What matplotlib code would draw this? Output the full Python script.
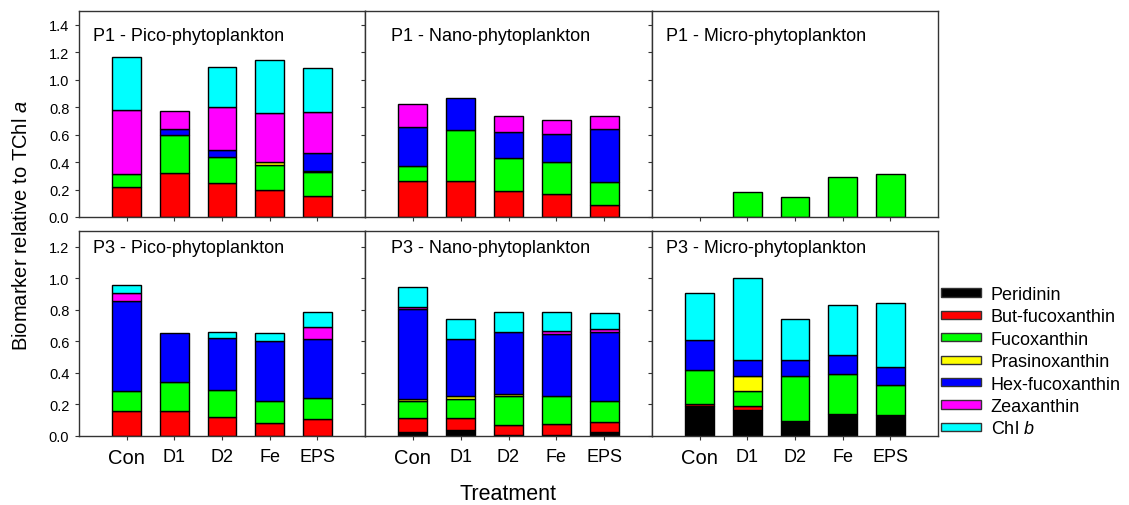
import numpy as np
import matplotlib
matplotlib.use("Agg")
import matplotlib.pyplot as plt
from matplotlib.patches import Patch

plt.rcParams['font.family'] = ['Liberation Sans', 'DejaVu Sans']
plt.rcParams['mathtext.fontset'] = 'custom'
plt.rcParams['mathtext.rm'] = 'Liberation Sans'
plt.rcParams['mathtext.it'] = 'Liberation Sans:italic'

# TREATMENTS AND PIGMENTS
tratamientos = ['Con', 'D1', 'D2', 'Fe', 'EPS']
pigmentos = ['Peridinin', 'But-fucoxanthin', 'Fucoxanthin', 'Prasinoxanthin',
             'Hex-fucoxanthin', 'Zeaxanthin', 'Chl $\\it{b}$']
colores = ['#000000', '#ff0000', '#00ff00', '#ffff00', '#0000ff', '#ff00ff', '#00ffff']

# Rows: pigments (same order as above), columns: treatments
p1_pico = np.array([
    [0.000, 0.000, 0.000, 0.000, 0.000],
    [0.215, 0.320, 0.250, 0.200, 0.150],
    [0.095, 0.280, 0.185, 0.180, 0.175],
    [0.000, 0.000, 0.000, 0.020, 0.012],
    [0.000, 0.040, 0.050, 0.000, 0.130],
    [0.470, 0.135, 0.315, 0.360, 0.295],
    [0.385, 0.000, 0.295, 0.380, 0.320],
])
p1_nano = np.array([
    [0.000, 0.000, 0.000, 0.000, 0.000],
    [0.260, 0.260, 0.187, 0.168, 0.088],
    [0.115, 0.370, 0.245, 0.235, 0.170],
    [0.000, 0.000, 0.000, 0.000, 0.000],
    [0.280, 0.235, 0.190, 0.200, 0.380],
    [0.170, 0.000, 0.110, 0.100, 0.100],
    [0.000, 0.000, 0.000, 0.000, 0.000],
])
p1_micro = np.array([
    [0.000, 0.000, 0.000, 0.000, 0.000],
    [0.000, 0.000, 0.000, 0.000, 0.000],
    [0.000, 0.180, 0.145, 0.290, 0.310],
    [0.000, 0.000, 0.000, 0.000, 0.000],
    [0.000, 0.000, 0.000, 0.000, 0.000],
    [0.000, 0.000, 0.000, 0.000, 0.000],
    [0.000, 0.000, 0.000, 0.000, 0.000],
])
p3_pico = np.array([
    [0.000, 0.000, 0.000, 0.000, 0.000],
    [0.157, 0.161, 0.120, 0.080, 0.106],
    [0.127, 0.180, 0.170, 0.144, 0.137],
    [0.000, 0.000, 0.000, 0.000, 0.000],
    [0.571, 0.313, 0.332, 0.377, 0.371],
    [0.051, 0.000, 0.000, 0.000, 0.076],
    [0.053, 0.000, 0.038, 0.053, 0.097],
])
p3_nano = np.array([
    [0.025, 0.038, 0.004, 0.004, 0.023],
    [0.087, 0.074, 0.064, 0.072, 0.064],
    [0.108, 0.121, 0.188, 0.180, 0.137],
    [0.012, 0.023, 0.013, 0.000, 0.000],
    [0.571, 0.356, 0.391, 0.394, 0.436],
    [0.013, 0.000, 0.000, 0.017, 0.017],
    [0.129, 0.131, 0.125, 0.118, 0.102],
])
p3_micro = np.array([
    [0.193, 0.167, 0.093, 0.140, 0.133],
    [0.013, 0.022, 0.000, 0.000, 0.000],
    [0.212, 0.095, 0.288, 0.252, 0.189],
    [0.000, 0.097, 0.000, 0.000, 0.000],
    [0.190, 0.104, 0.102, 0.120, 0.114],
    [0.000, 0.000, 0.000, 0.000, 0.000],
    [0.302, 0.520, 0.260, 0.320, 0.409],
])

paneles = [
    (p1_pico, 'P1 - Pico-phytoplankton'),
    (p1_nano, 'P1 - Nano-phytoplankton'),
    (p1_micro, 'P1 - Micro-phytoplankton'),
    (p3_pico, 'P3 - Pico-phytoplankton'),
    (p3_nano, 'P3 - Nano-phytoplankton'),
    (p3_micro, 'P3 - Micro-phytoplankton'),
]

# FIGURE
W, H = 1129, 506
fig = plt.figure(figsize=(W / 100, H / 100), dpi=100)

# panel boxes in pixels: left, top, right, bottom
columnas = [(79, 365), (365, 652), (652, 938)]
filas = [(12, 218), (232, 437)]

x = np.arange(1, 6)

for k, (datos, titulo) in enumerate(paneles):
    fila = k // 3
    col = k % 3
    x0, x1 = columnas[col]
    y0, y1 = filas[fila]
    ax = fig.add_axes([x0 / W, 1 - y1 / H, (x1 - x0) / W, (y1 - y0) / H])

    # stacked bars
    base = np.zeros(5)
    for i in range(len(pigmentos)):
        h = datos[i]
        if h.sum() > 0:
            ax.bar(x[h > 0], h[h > 0], bottom=base[h > 0], width=0.6,
                   color=colores[i], edgecolor='black', linewidth=1)
        base = base + h

    ax.set_xlim(0, 6)
    if fila == 0:
        ax.set_ylim(0, 1.5)
        ax.set_yticks(np.arange(0, 1.41, 0.2))
        ty = 0.88
    else:
        ax.set_ylim(0, 1.3)
        ax.set_yticks(np.arange(0, 1.21, 0.2))
        ty = 0.92

    ax.set_xticks(x)
    if fila == 1:
        ax.set_xticklabels(tratamientos)
        for lab in ax.get_xticklabels():
            lab.set_fontsize(14.5 if lab.get_text() == 'Con' else 13)
    else:
        ax.set_xticklabels([])

    if col == 0:
        ax.set_yticklabels([f'{v:.1f}' for v in ax.get_yticks()], fontsize=10.5)
    else:
        ax.set_yticklabels([])

    ax.tick_params(axis='both', direction='out', length=3, width=0.8,
                   color='#333333', pad=4)
    ax.tick_params(axis='x', pad=6)
    for s in ax.spines.values():
        s.set_color('#333333')
        s.set_linewidth(1)

    dx = 0.09 if col == 1 else 0.05
    ax.text(dx, ty, titulo, transform=ax.transAxes, fontsize=13,
            ha='left', va='center')

# Axis titles
fig.text(22 / W, 1 - 226 / H, 'Biomarker relative to TChl $\\it{a}$',
         rotation=90, ha='center', va='center', fontsize=14.5)
fig.text(508 / W, 1 - 495 / H, 'Treatment', ha='center', va='center',
         fontsize=15.5)

# Legend
handles = [Patch(facecolor=c, edgecolor='#333333', linewidth=1) for c in colores]
fig.legend(handles, pigmentos, loc='upper left',
           bbox_to_anchor=(941 / W, 1 - 287 / H), frameon=False,
           borderpad=0, borderaxespad=0, fontsize=13,
           handlelength=2.2, handleheight=0.33, handletextpad=0.55,
           labelspacing=0.3)

plt.savefig('out.png', dpi=100)
